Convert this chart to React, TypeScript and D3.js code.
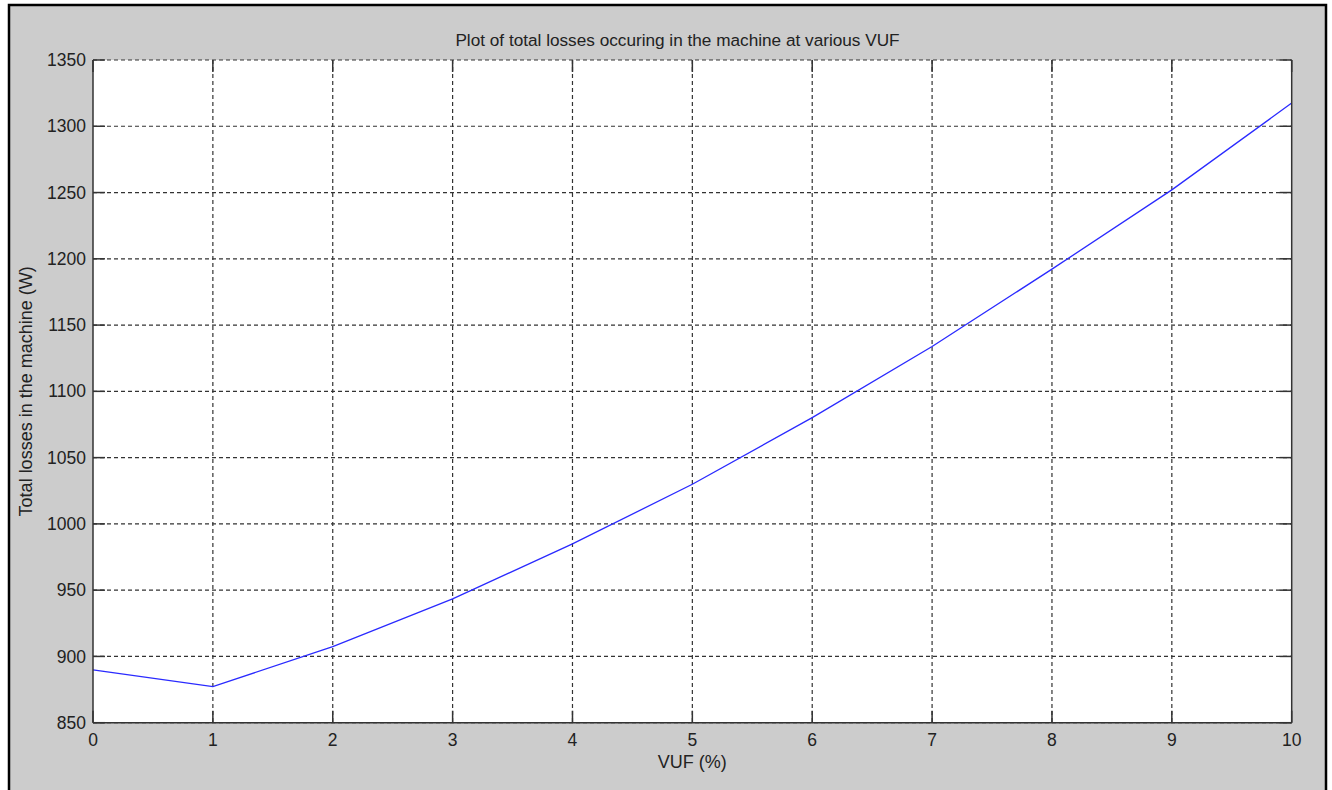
import React from "react";
import * as d3 from "d3";

const vufPercent = [0, 1, 2, 3, 4, 5, 6, 7, 8, 9, 10];
const totalLosses = [889.8, 877.2, 907.4, 943.4, 984.9, 1029.9, 1080.2, 1133.8, 1192.2, 1252, 1317.5];
const xTicks = [0, 1, 2, 3, 4, 5, 6, 7, 8, 9, 10];
const yTicks = [850, 900, 950, 1000, 1050, 1100, 1150, 1200, 1250, 1300, 1350];

const W = 1332;
const H = 790;
const left = 93;
const right = 1291.7;
const top = 60;
const bottom = 722.7;
const tickLen = 12;
const font = "Arial, 'Liberation Sans', sans-serif";

export default function App() {
  const x = d3.scaleLinear().domain([0, 10]).range([left, right]);
  const y = d3.scaleLinear().domain([850, 1350]).range([bottom, top]);
  const line = d3
    .line<number>()
    .x((_, i) => x(vufPercent[i]))
    .y((d) => y(d));

  return (
    <svg
      width={W}
      height={H}
      style={{ position: "absolute", left: 0, top: 0, background: "#ffffff" }}
    >
      <rect x={9} y={5} width={1317} height={800} fill="#cccccc" stroke="#000" strokeWidth={2.5} />
      <rect x={left} y={top} width={right - left} height={bottom - top} fill="#ffffff" />
      {/* grid */}
      {xTicks.slice(1, -1).map((t) => (
        <line
          key={"gx" + t}
          x1={x(t)}
          x2={x(t)}
          y1={top}
          y2={bottom}
          stroke="#333"
          strokeWidth={1.2}
          strokeDasharray="4,3"
        />
      ))}
      {yTicks.map((t) => (
        <line
          key={"gy" + t}
          x1={left}
          x2={right}
          y1={y(t)}
          y2={y(t)}
          stroke="#333"
          strokeWidth={1.2}
          strokeDasharray="4,3"
        />
      ))}
      {/* data line */}
      <path d={line(totalLosses) || ""} fill="none" stroke="#2a2aff" strokeWidth={1.3} />
      {/* axes box: left, bottom, right solid */}
      <line x1={left} x2={left} y1={top} y2={bottom} stroke="#333" strokeWidth={1.5} />
      <line x1={left} x2={right} y1={bottom} y2={bottom} stroke="#333" strokeWidth={1.5} />
      <line x1={right} x2={right} y1={top} y2={bottom} stroke="#333" strokeWidth={1.5} />
      {/* ticks */}
      {xTicks.map((t) => (
        <g key={"tx" + t}>
          <line x1={x(t)} x2={x(t)} y1={bottom} y2={bottom - tickLen} stroke="#333" strokeWidth={1.5} />
          <line x1={x(t)} x2={x(t)} y1={top} y2={top + tickLen} stroke="#333" strokeWidth={1.5} />
          <text
            x={x(t)}
            y={bottom + 23}
            textAnchor="middle"
            fontFamily={font}
            fontSize={17.5}
            fill="#222"
          >
            {t}
          </text>
        </g>
      ))}
      {yTicks.map((t) => (
        <g key={"ty" + t}>
          <line x1={left} x2={left + tickLen} y1={y(t)} y2={y(t)} stroke="#333" strokeWidth={1.5} />
          <line x1={right} x2={right - tickLen} y1={y(t)} y2={y(t)} stroke="#333" strokeWidth={1.5} />
          <text
            x={left - 7}
            y={y(t)}
            dy="0.35em"
            textAnchor="end"
            fontFamily={font}
            fontSize={17.5}
            fill="#222"
          >
            {t}
          </text>
        </g>
      ))}
      <text
        x={677.5}
        y={46}
        textAnchor="middle"
        fontFamily={font}
        fontSize={17.2}
        fill="#222"
      >
        Plot of total losses occuring in the machine at various VUF
      </text>
      <text
        x={(left + right) / 2}
        y={768}
        textAnchor="middle"
        fontFamily={font}
        fontSize={18}
        fill="#222"
      >
        VUF (%)
      </text>
      <text
        transform={`translate(32, ${(top + bottom) / 2}) rotate(-90)`}
        textAnchor="middle"
        fontFamily={font}
        fontSize={18}
        fill="#222"
      >
        Total losses in the machine (W)
      </text>
    </svg>
  );
}
